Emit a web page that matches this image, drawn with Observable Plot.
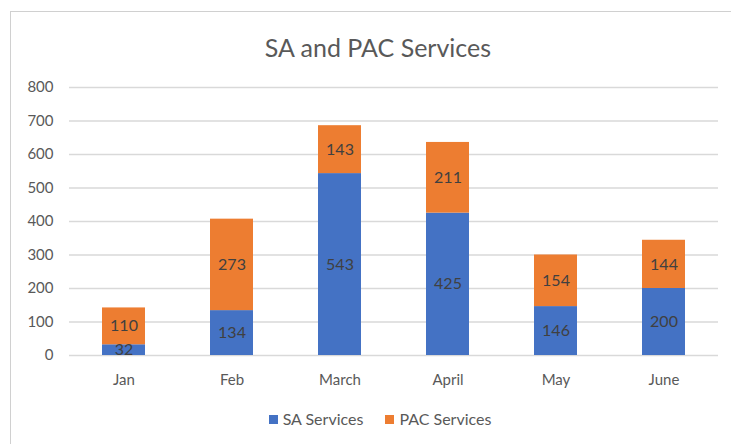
<!DOCTYPE html>
<html><head><meta charset="utf-8">
<script src="https://cdn.jsdelivr.net/npm/d3@7"></script>
<script src="https://cdn.jsdelivr.net/npm/@observablehq/plot@0.6"></script>
<style>
html,body{margin:0;padding:0;width:731px;height:444px;overflow:hidden;background:#fff;font-family:Lato,"Open Sans",sans-serif;}
#frame{position:absolute;left:10px;top:11px;width:760px;height:460px;border:1px solid #d0d0d0;box-sizing:border-box;}
#title{position:absolute;left:0;width:756px;top:32px;text-align:center;font-size:25px;color:#595959;line-height:30px;}
#chart{position:absolute;left:0;top:0;}
#legend{position:absolute;left:0;width:760px;top:409px;text-align:center;font-size:16px;color:#595959;line-height:20px;}
#legend span.sw{display:inline-block;width:9px;height:9px;margin-right:5px;vertical-align:1px;}
#legend span.it{margin:0 11px;}
</style></head>
<body>
<div id="frame"></div>
<div id="title">SA and PAC Services</div>
<div id="chart"></div>
<div id="legend"></div>
<script>
const months = ["Jan", "Feb", "March", "April", "May", "June"];
const seriesNames = ["SA Services", "PAC Services"];
const saValues = [32, 134, 543, 425, 146, 200];
const pacValues = [110, 273, 143, 211, 154, 144];
const colors = ["#4472C4", "#ED7D31"];
const yTicks = [0, 100, 200, 300, 400, 500, 600, 700, 800];

const data = [];
months.forEach((m, i) => data.push({month: m, series: seriesNames[0], value: saValues[i]}));
months.forEach((m, i) => data.push({month: m, series: seriesNames[1], value: pacValues[i]}));

const plot = Plot.plot({
  width: 731,
  height: 400,
  marginTop: 87,
  marginBottom: 45,
  marginLeft: 69,
  marginRight: 13,
  style: {fontFamily: "Lato, 'Open Sans', sans-serif", fontSize: "15px", color: "#595959", background: "transparent"},
  x: {domain: months, paddingInner: 0.6, paddingOuter: 0.3, label: null, tickSize: 0, tickPadding: 19},
  y: {domain: [0, 800], ticks: yTicks, label: null, tickSize: 0, tickPadding: 16},
  color: {domain: seriesNames, range: colors},
  marks: [
    Plot.ruleY(yTicks, {stroke: "#d9d9d9", strokeWidth: 1.3}),
    Plot.barY(data, {x: "month", y: "value", fill: "series"}),
    Plot.text(data, Plot.stackY({x: "month", y: "value", z: "series", text: d => String(d.value), fill: "#404040", fontSize: 16}))
  ]
});
document.getElementById("chart").appendChild(plot);

const legend = document.getElementById("legend");
seriesNames.forEach((s, i) => {
  const it = document.createElement("span");
  it.className = "it";
  const sw = document.createElement("span");
  sw.className = "sw";
  sw.style.background = colors[i];
  it.appendChild(sw);
  it.appendChild(document.createTextNode(s));
  legend.appendChild(it);
});
</script>
</body></html>
